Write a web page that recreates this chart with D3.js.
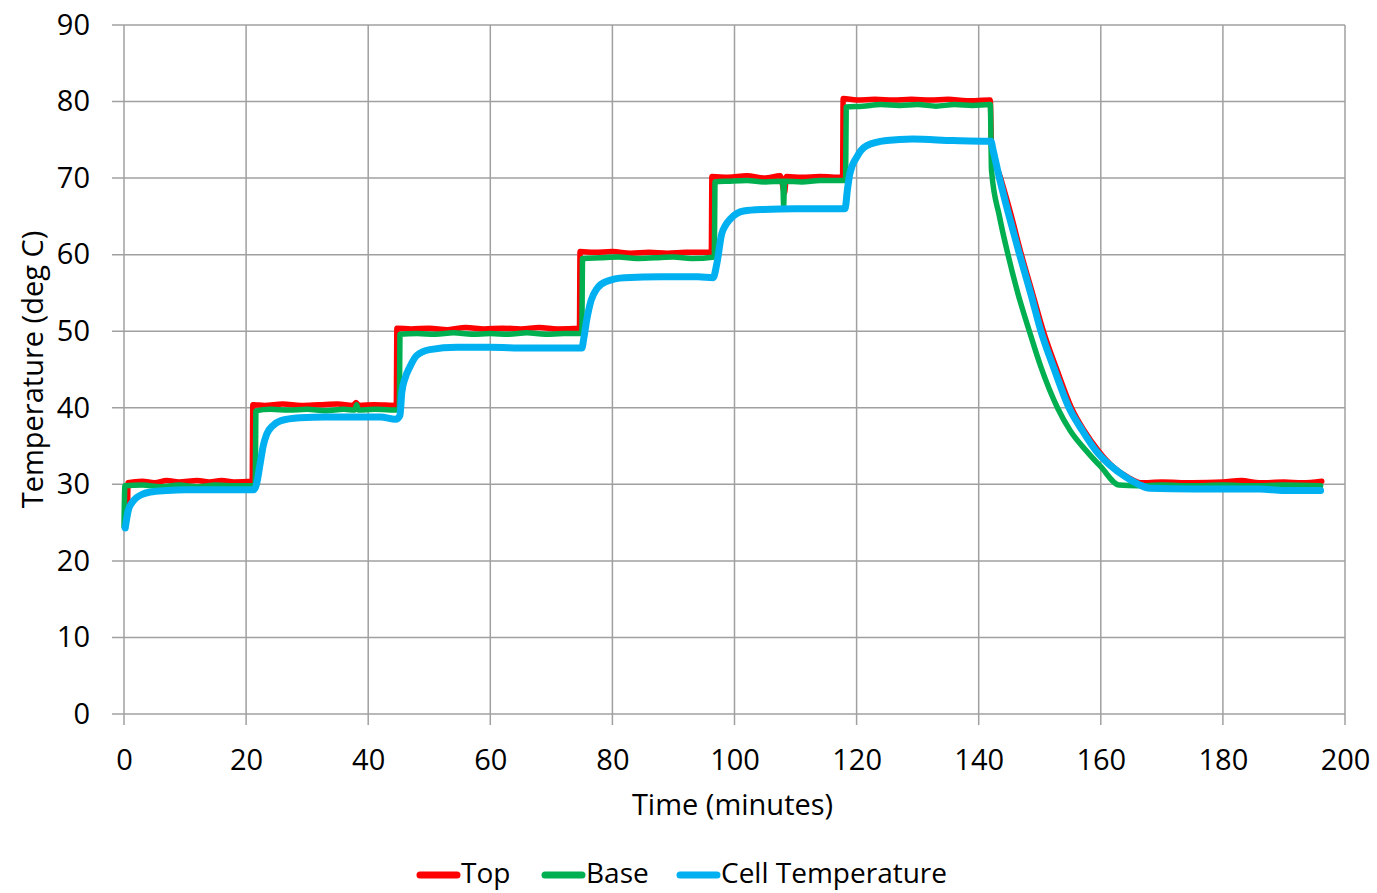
<!DOCTYPE html>
<html><head><meta charset="utf-8">
<script src="https://cdn.jsdelivr.net/npm/d3@7"></script>
<style>html,body{margin:0;padding:0;background:#fff;} svg{display:block;font-family:"Open Sans",Lato,sans-serif;}</style>
</head><body>
<svg id="chart" width="1377" height="893"></svg>
<script>
const xTicks = [0,20,40,60,80,100,120,140,160,180,200];
const yTicks = [0,10,20,30,40,50,60,70,80,90];
const seriesNames = ["Top","Base","Cell Temperature"];
const seriesColors = ["#ff0000","#00b050","#00b0f0"];

const topSeries = [[0.6,27.4],[0.65,30.2],[3,30.4],[5,30.2],[7,30.5],[9,30.3],[12,30.5],[14,30.3],[16,30.5],[18,30.3],[21.0,30.4],[21.1,40.4],[23,40.3],[26,40.5],[29,40.3],[32,40.4],[35,40.5],[37.5,40.3],[38,40.7],[38.5,40.3],[41,40.4],[44.6,40.3],[44.7,50.4],[47,50.3],[50,50.4],[53,50.2],[56,50.5],[59,50.3],[62,50.4],[65,50.3],[68,50.5],[71,50.3],[74.6,50.4],[74.7,60.4],[77,60.3],[80,60.4],[83,60.2],[86,60.3],[89,60.2],[92,60.3],[96.2,60.3],[96.3,70.2],[99,70.1],[102,70.3],[105,70.0],[107.5,70.3],[108.2,68.1],[108.5,70.2],[111,70.1],[114,70.2],[117.7,70.1],[117.8,80.4],[120,80.2],[123,80.3],[126,80.2],[129,80.3],[132,80.2],[135,80.3],[138,80.1],[141.9,80.2],[142.1,74],[143.6,70],[145.2,65.5],[147,60],[148.8,55],[150.6,50],[152.8,45],[155.2,40],[157.3,37],[159.6,34.4],[162,32.3],[164.5,30.9],[166.5,30.2],[170,30.3],[175,30.2],[180,30.3],[183,30.5],[186,30.2],[190,30.3],[193,30.2],[196.2,30.4]];

const baseSeries = [[0,24.5],[0.15,29.8],[3,29.9],[6,29.7],[9,29.9],[12,29.7],[15,29.9],[18,29.8],[21.5,29.8],[21.6,39.6],[24,39.8],[27,39.7],[30,39.8],[33,39.6],[36,39.8],[37.8,39.7],[38.1,40.4],[38.4,39.7],[41,39.8],[45.1,39.7],[45.2,49.6],[48,49.7],[51,49.6],[54,49.8],[57,49.6],[60,49.7],[63,49.6],[66,49.8],[69,49.6],[72,49.7],[75,49.7],[75.1,59.5],[78,59.6],[81,59.7],[84,59.5],[87,59.6],[90,59.7],[93,59.5],[96.7,59.7],[96.8,69.5],[99,69.6],[102,69.7],[105,69.5],[107.9,69.6],[108.05,66.4],[108.2,69.6],[111,69.5],[114,69.7],[118.2,69.7],[118.3,79.3],[121,79.4],[124,79.6],[127,79.5],[130,79.6],[133,79.4],[136,79.6],[139,79.5],[141.9,79.6],[142.1,71],[143.4,65],[144.8,60],[146.4,55],[148.3,50],[150.2,45.3],[152.9,40],[155,37],[157.6,34.4],[160,32.3],[163,29.9],[166,29.8],[170,29.9],[175,29.8],[180,29.9],[185,29.8],[190,29.9],[196,29.8]];

const cellSeries = [[0.2,24.3],[0.7,26.6],[1.3,27.6],[2.1,28.3],[3,28.7],[4.3,29.0],[7,29.2],[10,29.3],[15,29.3],[21.3,29.3],[21.7,30],[22.3,32.7],[22.8,35],[23.4,36.6],[24.3,37.6],[25.6,38.3],[28.8,38.7],[33,38.8],[38,38.8],[42,38.8],[44.5,38.5],[45.2,39],[45.5,42],[46.1,44],[46.8,45.3],[47.9,46.8],[50.1,47.6],[54.5,47.9],[60,47.9],[66,47.8],[72,47.8],[75.0,47.8],[75.3,49],[75.8,51.5],[76.5,54],[77.5,55.6],[79,56.5],[82,57],[88,57.1],[94,57.1],[96.5,57.0],[97.1,58.8],[97.9,62.7],[98.5,63.8],[99.3,64.65],[101.5,65.7],[104.7,65.9],[110,66],[118.1,66],[118.5,68.5],[118.9,70.6],[120,72.7],[121.6,74.2],[124.9,74.9],[129.2,75.1],[135.8,74.9],[142.0,74.8],[142.4,73.5],[143.4,70],[145,65],[146.7,60],[148.5,55],[150.2,50],[152.4,45],[154.8,40],[157,37],[159.2,34.4],[161.5,32.5],[164,31],[166.2,30],[168,29.5],[175,29.4],[182,29.4],[186,29.4],[190,29.2],[193,29.2],[196,29.2]];

const svg = d3.select("#chart");
const L = 124, T = 25, R = 1345, B = 714;
const x = d3.scaleLinear().domain([0,200]).range([L,R]);
const y = d3.scaleLinear().domain([0,90]).range([B,T]);
const gridColor = "#a0a0a0";
const fs = 29;

// gridlines
const g = svg.append("g");
g.selectAll(".hg").data(yTicks).join("line")
  .attr("x1", L-12).attr("x2", R).attr("y1", d=>y(d)).attr("y2", d=>y(d))
  .attr("stroke", gridColor).attr("stroke-width", 1.5);
g.selectAll(".vg").data(xTicks).join("line")
  .attr("x1", d=>x(d)).attr("x2", d=>x(d)).attr("y1", T).attr("y2", B+11)
  .attr("stroke", gridColor).attr("stroke-width", 1.5);

// axes labels via d3 axes (no lines)
const xAxis = svg.append("g").attr("transform",`translate(0,${B})`)
  .call(d3.axisBottom(x).tickValues(xTicks).tickSize(0).tickPadding(35));
xAxis.select(".domain").remove();
xAxis.selectAll("text").attr("font-size", fs).attr("fill","#000").attr("font-family","'Open Sans', sans-serif");
const yAxis = svg.append("g").attr("transform",`translate(${L},0)`)
  .call(d3.axisLeft(y).tickValues(yTicks).tickSize(0).tickPadding(34));
yAxis.select(".domain").remove();
yAxis.selectAll("text").attr("font-size", fs).attr("fill","#000").attr("font-family","'Open Sans', sans-serif");

// series
const line = d3.line().x(d=>x(d[0])).y(d=>y(d[1])).curve(d3.curveMonotoneX);
const data = [topSeries, baseSeries, cellSeries];
const widths = [5.5, 5.5, 7];
data.forEach((s,i)=>{
  svg.append("path").datum(s).attr("d", line).attr("fill","none")
    .attr("stroke", seriesColors[i]).attr("stroke-width", widths[i])
    .attr("stroke-linejoin","round").attr("stroke-linecap","round");
});

// axis titles
svg.append("text").attr("x", (L+R)/2 - 2).attr("y", 815).attr("text-anchor","middle")
  .attr("font-size", fs).text("Time (minutes)");
svg.append("text").attr("transform", `translate(43,${(T+B)/2}) rotate(-90)`)
  .attr("text-anchor","middle").attr("font-size", fs).text("Temperature (deg C)");

// legend
const legX = [420, 545, 680];
const leg = svg.append("g");
seriesNames.forEach((n,i)=>{
  leg.append("line").attr("x1", legX[i]).attr("x2", legX[i]+37).attr("y1", 875).attr("y2", 875)
    .attr("stroke", seriesColors[i]).attr("stroke-width", 7).attr("stroke-linecap","round");
  leg.append("text").attr("x", legX[i]+41).attr("y", 883).attr("font-size", 28).text(n);
});
</script>
</body></html>
